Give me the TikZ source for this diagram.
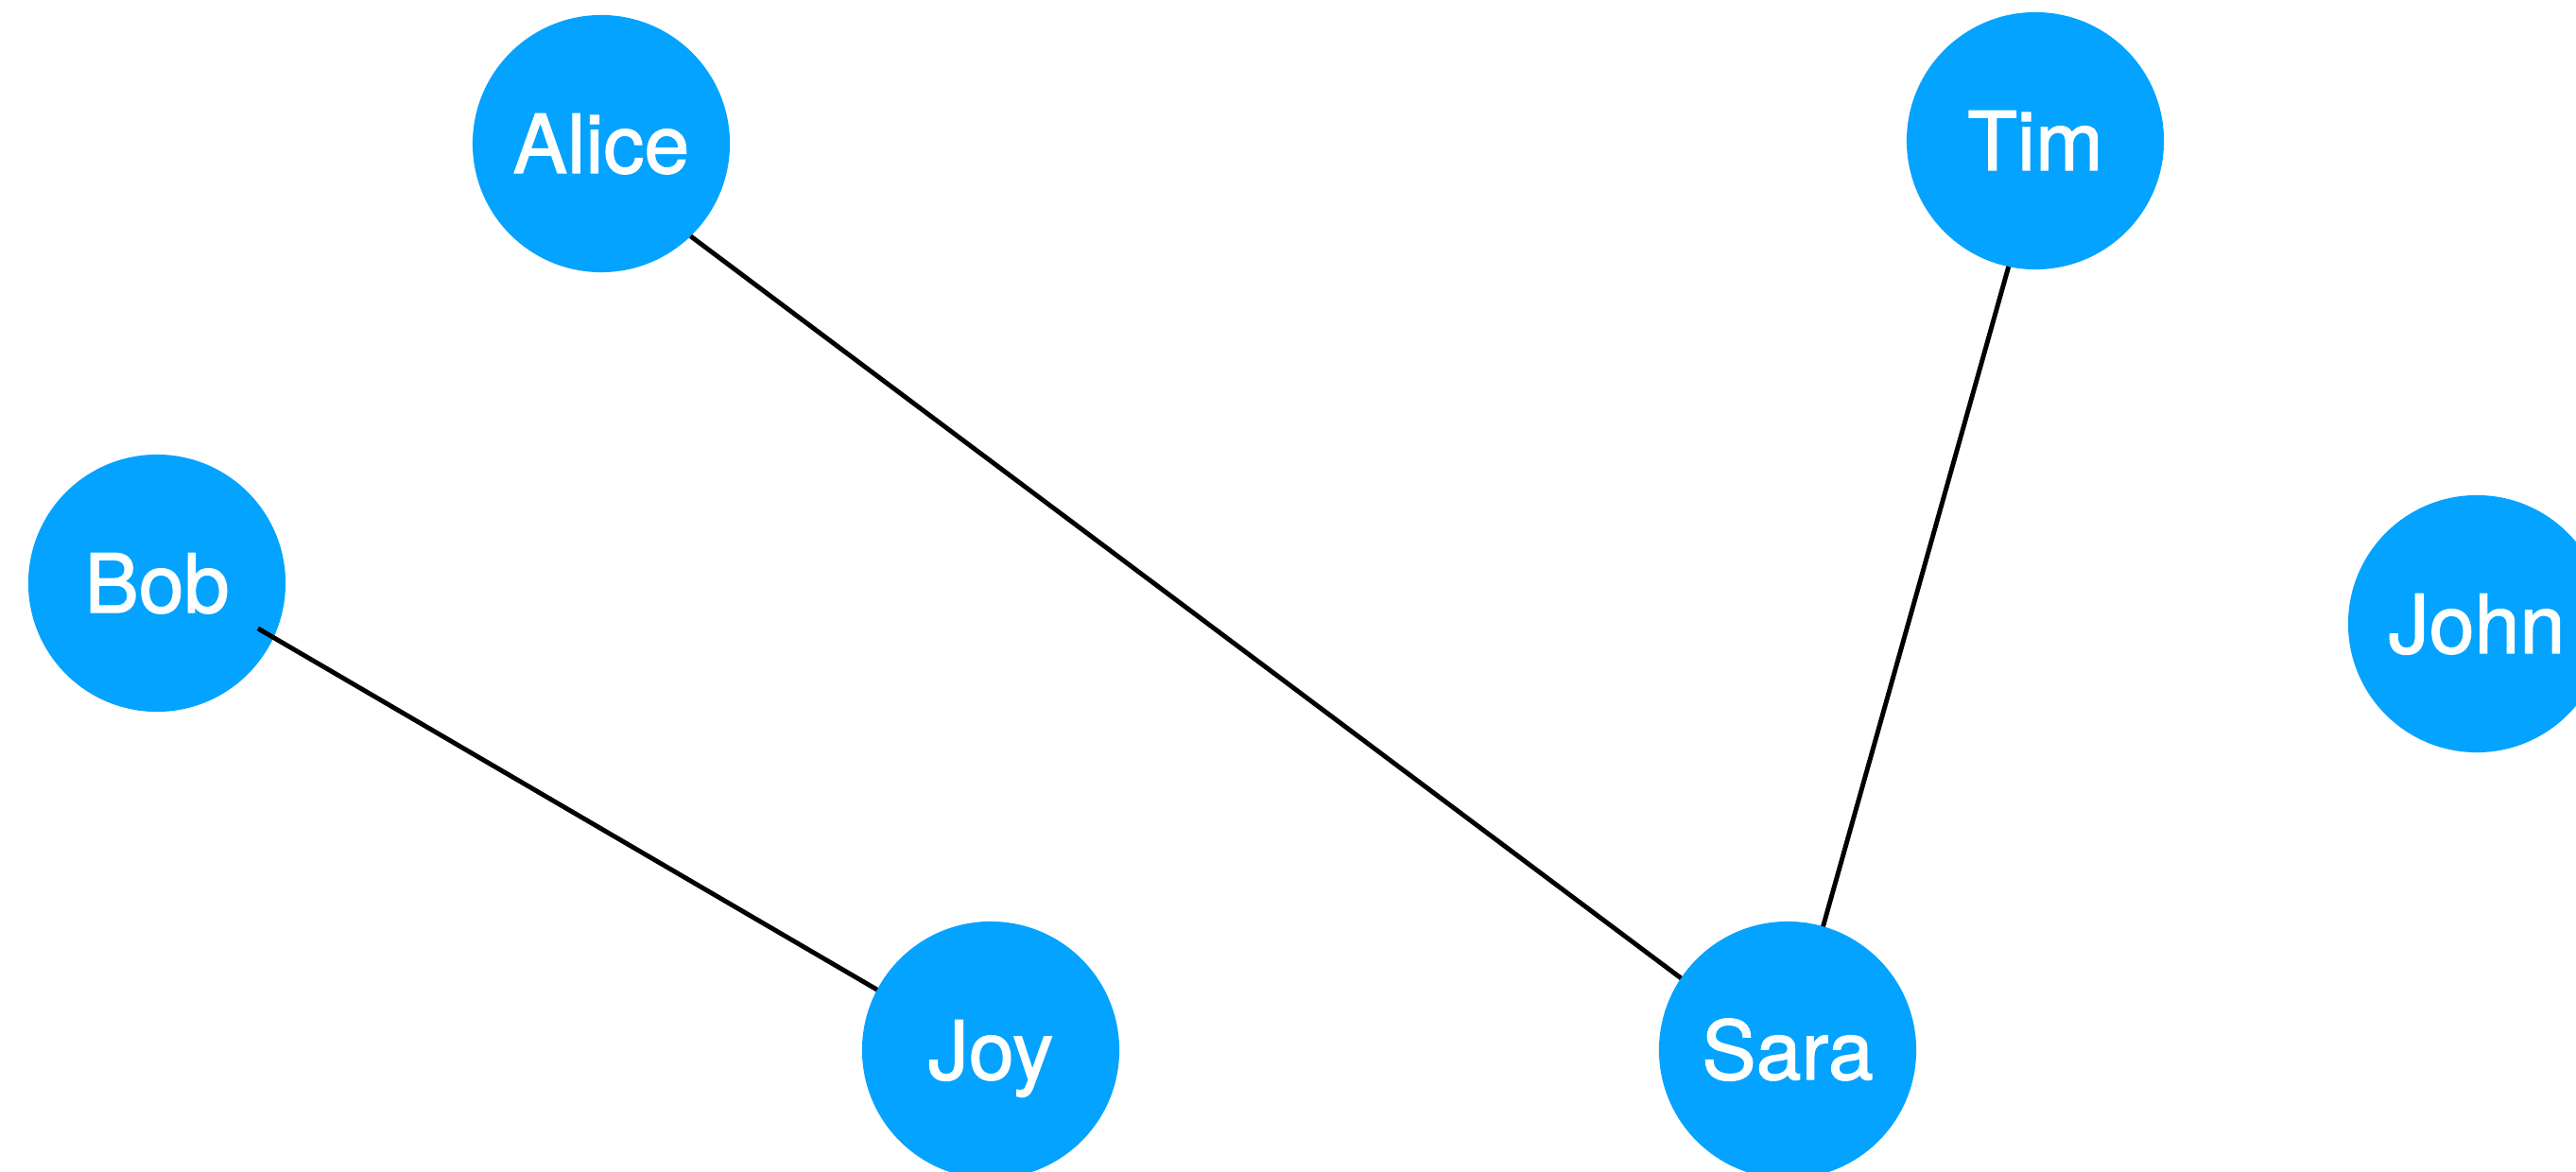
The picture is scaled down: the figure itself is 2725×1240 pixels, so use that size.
\documentclass[tikz,border=0pt]{standalone}
\usepackage{fontspec}
\setmainfont{TeX Gyre Heros}
\newfontfamily\namefont{TeX Gyre Heros}[FakeBold=1.5]
\definecolor{nodeblue}{RGB}{3,163,255}
\begin{document}
\begin{tikzpicture}[x=0.01cm, y=-0.01cm,
  person/.style={circle, fill=nodeblue, minimum size=2.72cm, inner sep=0pt,
    outer sep=0pt, text=white, font=\namefont\fontsize{24.5pt}{29pt}\selectfont,
    text height=0.62cm, text depth=0pt},
  link/.style={draw=black, line width=1.4pt}]
\useasboundingbox (0,0) rectangle (2725,1240);
\clip (0,0) rectangle (2725,1240);

% people
\node[person] (alice) at (636,152)   {Alice};
\node[person] (tim)   at (2153,149)  {Tim};
\node[person] (bob)   at (166,617)   {Bob};
\node[person] (john)  at (2620,660)  {John};
\node[person] (joy)   at (1048,1111) {Joy};
\node[person] (sara)  at (1891,1111) {Sara};

% friendships
\draw[link] (alice.-46.5) -- (sara.146.3);
\draw[link] (tim.-102.7) -- (sara.74.5);
\draw[link, shorten <=-0.19cm] (bob.-25.3) -- (joy.152.1);
\end{tikzpicture}
\end{document}
